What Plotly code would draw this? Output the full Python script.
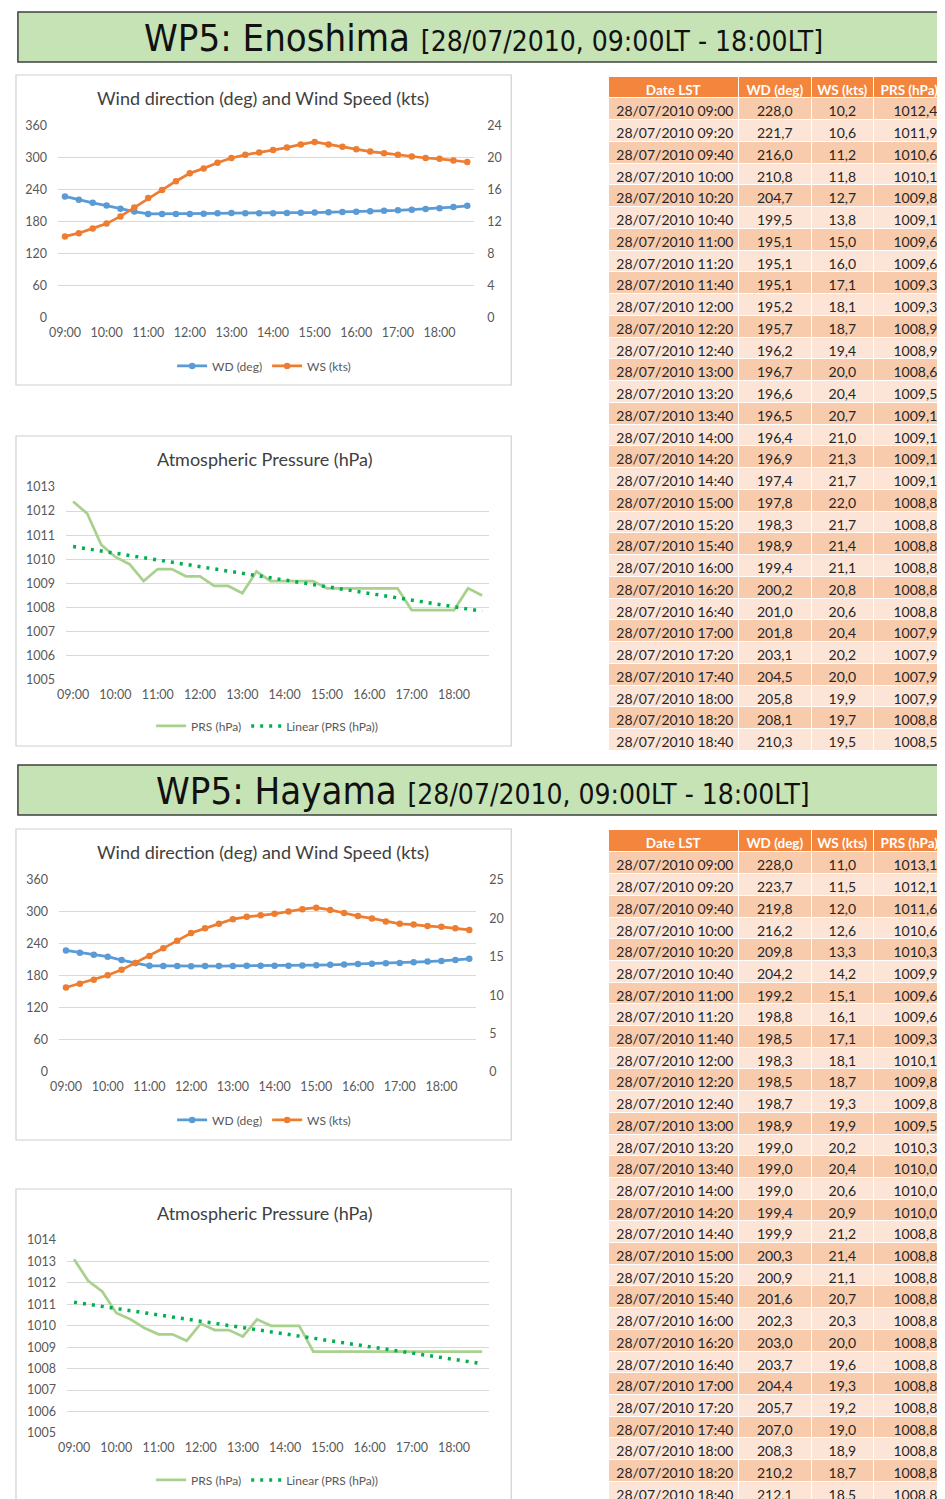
import numpy as np
import plotly.graph_objects as go

W, H = 945, 1499
# observed page placement: rendered = OFF + SC * layout pixel
OFF, SC = 16.0, 0.99
def X(px): return ((px - OFF) / SC) / W
def Y(py): return 1 - ((py - OFF) / SC) / H
def S(v): return v / SC

# ---------------- data ----------------
times = ["09:00", "09:20", "09:40", "10:00", "10:20", "10:40", "11:00", "11:20", "11:40",
         "12:00", "12:20", "12:40", "13:00", "13:20", "13:40", "14:00", "14:20", "14:40",
         "15:00", "15:20", "15:40", "16:00", "16:20", "16:40", "17:00", "17:20", "17:40",
         "18:00", "18:20", "18:40"]
date_str = "28/07/2010"
x_ticks = ["09:00", "10:00", "11:00", "12:00", "13:00", "14:00", "15:00", "16:00", "17:00", "18:00"]

wd_eno = [228.0, 221.7, 216.0, 210.8, 204.7, 199.5, 195.1, 195.1, 195.1, 195.2, 195.7, 196.2,
          196.7, 196.6, 196.5, 196.4, 196.9, 197.4, 197.8, 198.3, 198.9, 199.4, 200.2, 201.0,
          201.8, 203.1, 204.5, 205.8, 208.1, 210.3]
ws_eno = [10.2, 10.6, 11.2, 11.8, 12.7, 13.8, 15.0, 16.0, 17.1, 18.1, 18.7, 19.4, 20.0, 20.4,
          20.7, 21.0, 21.3, 21.7, 22.0, 21.7, 21.4, 21.1, 20.8, 20.6, 20.4, 20.2, 20.0, 19.9,
          19.7, 19.5]
prs_eno = [1012.4, 1011.9, 1010.6, 1010.1, 1009.8, 1009.1, 1009.6, 1009.6, 1009.3, 1009.3,
           1008.9, 1008.9, 1008.6, 1009.5, 1009.1, 1009.1, 1009.1, 1009.1, 1008.8, 1008.8,
           1008.8, 1008.8, 1008.8, 1008.8, 1007.9, 1007.9, 1007.9, 1007.9, 1008.8, 1008.5]

wd_hay = [228.0, 223.7, 219.8, 216.2, 209.8, 204.2, 199.2, 198.8, 198.5, 198.3, 198.5, 198.7,
          198.9, 199.0, 199.0, 199.0, 199.4, 199.9, 200.3, 200.9, 201.6, 202.3, 203.0, 203.7,
          204.4, 205.7, 207.0, 208.3, 210.2, 212.1]
ws_hay = [11.0, 11.5, 12.0, 12.6, 13.3, 14.2, 15.1, 16.1, 17.1, 18.1, 18.7, 19.3, 19.9, 20.2,
          20.4, 20.6, 20.9, 21.2, 21.4, 21.1, 20.7, 20.3, 20.0, 19.6, 19.3, 19.2, 19.0, 18.9,
          18.7, 18.5]
prs_hay = [1013.1, 1012.1, 1011.6, 1010.6, 1010.3, 1009.9, 1009.6, 1009.6, 1009.3, 1010.1,
           1009.8, 1009.8, 1009.5, 1010.3, 1010.0, 1010.0, 1010.0, 1008.8, 1008.8, 1008.8,
           1008.8, 1008.8, 1008.8, 1008.8, 1008.8, 1008.8, 1008.8, 1008.8, 1008.8, 1008.8]

table_header = ["Date LST", "WD (deg)", "WS (kts)", "PRS (hPa)"]

# ---------------- style ----------------
C_WD = "#5B9BD5"
C_WS = "#ED7D31"
C_PRS = "#A9D18E"
C_TREND = "#00B050"
GRID = "#D9D9D9"
TICK = "#595959"
FONT = "Lato, Open Sans, sans-serif"
BANNER_FONT = "Liberation Sans Narrow, DejaVu Sans Condensed, Arial Narrow, Liberation Sans, sans-serif"
NB = "\u00a0"


def trend(vals):
    idx = np.arange(len(vals))
    a, b = np.polyfit(idx, vals, 1)
    return list(a * idx + b)


def fmt(v):
    return f"{v:.1f}".replace(".", ",")


fig = go.Figure()

def wind(wd, ws, xa, ya, ya2, lg):
    fig.add_trace(go.Scatter(x=times, y=wd, name="WD (deg)", mode="lines+markers",
                             line=dict(color=C_WD, width=2.75), marker=dict(size=6.5, color=C_WD),
                             xaxis=xa, yaxis=ya, legend=lg))
    fig.add_trace(go.Scatter(x=times, y=ws, name="WS (kts)", mode="lines+markers",
                             line=dict(color=C_WS, width=2.75), marker=dict(size=6.5, color=C_WS),
                             xaxis=xa, yaxis=ya2, legend=lg))

def pressure(prs, xa, ya, lg):
    fig.add_trace(go.Scatter(x=times, y=prs, name="PRS (hPa)", mode="lines",
                             line=dict(color=C_PRS, width=2.75), xaxis=xa, yaxis=ya, legend=lg))
    fig.add_trace(go.Scatter(x=times, y=trend(prs), name="Linear (PRS (hPa))", mode="lines",
                             line=dict(color=C_TREND, width=3.5, dash="3px,6px"),
                             xaxis=xa, yaxis=ya, legend=lg))

wind(wd_eno, ws_eno, "x", "y", "y2", "legend")
pressure(prs_eno, "x2", "y3", "legend2")
wind(wd_hay, ws_hay, "x3", "y4", "y5", "legend3")
pressure(prs_hay, "x4", "y6", "legend4")

# Tables
def add_table(wd, ws, prs, top, bottom, hh, ch):
    n = len(times)
    fills = ["#F8CBAD" if i % 2 == 0 else "#FCE4D6" for i in range(n)]
    ybot = max(0.0, Y(bottom))
    fig.add_trace(go.Table(
        domain=dict(x=[X(607), X(944)], y=[ybot, Y(top)]),
        columnwidth=[130, 73, 62, 72],
        header=dict(values=[h.replace(" ", NB) for h in table_header],
                    fill_color="#F4853C", line=dict(color="white", width=1),
                    font=dict(family=FONT, size=13.5, color="white", weight="bold"),
                    align="center", height=hh),
        cells=dict(values=[[f"{date_str}{NB}{t}" for t in times],
                           [fmt(v) for v in wd], [fmt(v) for v in ws], [fmt(v) for v in prs]],
                   fill_color=[fills] * 4, line=dict(color="white", width=1),
                   font=dict(family=FONT, size=14, color="#262626"),
                   align=["left", "center", "center", "right"], height=ch)))

add_table(wd_eno, ws_eno, prs_eno, 77, 753, 21, 21.75)
add_table(wd_hay, ws_hay, prs_hay, 830, 1520, 22, 21.7)

tickfont = dict(family=FONT, size=12.5, color=TICK)

def xax(x0, x1, anchor):
    return dict(domain=[X(x0), X(x1)], anchor=anchor, type="category", range=[-0.5, 29.5],
                tickmode="array", tickvals=x_ticks, ticktext=x_ticks, showgrid=False,
                zeroline=False, showline=False, tickfont=tickfont, ticks="",
                ticklabelstandoff=6, fixedrange=True)

def yax(y0, y1, anchor, rng, dtick, standoff=10):
    return dict(domain=[Y(y1), Y(y0)], anchor=anchor, range=rng, dtick=dtick, tick0=rng[0],
                showgrid=True, gridcolor=GRID, gridwidth=1, zeroline=False, showline=False,
                tickfont=tickfont, ticks="", ticklabelstandoff=standoff, fixedrange=True)

def yright(over, anchor, rng, dtick):
    return dict(overlaying=over, anchor=anchor, side="right", range=rng, dtick=dtick, tick0=0,
                showgrid=False, zeroline=False, showline=False, tickfont=tickfont, ticks="",
                ticklabelstandoff=12, fixedrange=True)

legfont = dict(family=FONT, size=12, color=TICK)

def leg(cx, cy):
    return dict(orientation="h", x=X(cx), xanchor="center", y=Y(cy), yanchor="middle",
                font=legfont, bgcolor="rgba(0,0,0,0)", itemwidth=30, tracegroupgap=0)

shapes = []
annotations = []

def box(x0, y0, x1, y1):
    shapes.append(dict(type="rect", xref="paper", yref="paper", x0=X(x0), x1=X(x1),
                       y0=Y(y1), y1=Y(y0), line=dict(color="#D0D0D0", width=1.2),
                       fillcolor="rgba(0,0,0,0)", layer="below"))

def banner(y0, y1, name):
    shapes.append(dict(type="rect", xref="paper", yref="paper", x0=max(X(13), 0.001), x1=1.02,
                       y0=Y(y1), y1=Y(y0), line=dict(color="#404040", width=1.5),
                       fillcolor="#C5E3B5", layer="below"))
    annotations.append(dict(xref="paper", yref="paper", x=X(482), y=Y((y0 + y1) / 2 + 1),
                            xanchor="center", yanchor="middle", showarrow=False,
                            text=f"WP5: {name} <span style='font-size:28px'>[28/07/2010, 09:00LT - 18:00LT]</span>",
                            font=dict(family=BANNER_FONT, size=38, color="#111111")))

def title(cx, cy, text):
    annotations.append(dict(xref="paper", yref="paper", x=X(cx), y=Y(cy), xanchor="center",
                            yanchor="middle", showarrow=False, text=text,
                            font=dict(family=FONT, size=18, color="#404040")))

banner(12, 62, "Enoshima")
banner(765, 815, "Hayama")

box(15, 75, 510, 385)
box(15, 436, 510, 746)
box(15, 829, 510, 1140)
box(15, 1189, 510, 1520)

title(262, 98, "Wind direction (deg) and Wind Speed (kts)")
title(264, 459, "Atmospheric Pressure (hPa)")
title(262, 852, "Wind direction (deg) and Wind Speed (kts)")
title(264, 1213, "Atmospheric Pressure (hPa)")

fig.update_layout(
    width=W, height=H, margin=dict(l=0, r=0, t=0, b=0),
    paper_bgcolor="white", plot_bgcolor="rgba(0,0,0,0)",
    font=dict(family=FONT),
    xaxis=xax(57, 473, "y"),
    yaxis=yax(126, 318, "x", [0, 360], 60),
    yaxis2=yright("y", "x", [0, 24], 4),
    xaxis2=xax(65, 488, "y3"),
    yaxis3=yax(487, 680, "x2", [1005, 1013], 1),
    xaxis3=xax(58, 475, "y4"),
    yaxis4=yax(880, 1072, "x3", [0, 360], 60),
    yaxis5=yright("y4", "x3", [0, 25], 5),
    xaxis4=xax(66, 488, "y6"),
    yaxis6=yax(1240, 1433, "x4", [1005, 1014], 1),
    legend=leg(263, 366),
    legend2=leg(266, 726),
    legend3=leg(263, 1120),
    legend4=leg(266, 1480),
    shapes=shapes, annotations=annotations,
    showlegend=True,
)

fig.write_html("out.html")
